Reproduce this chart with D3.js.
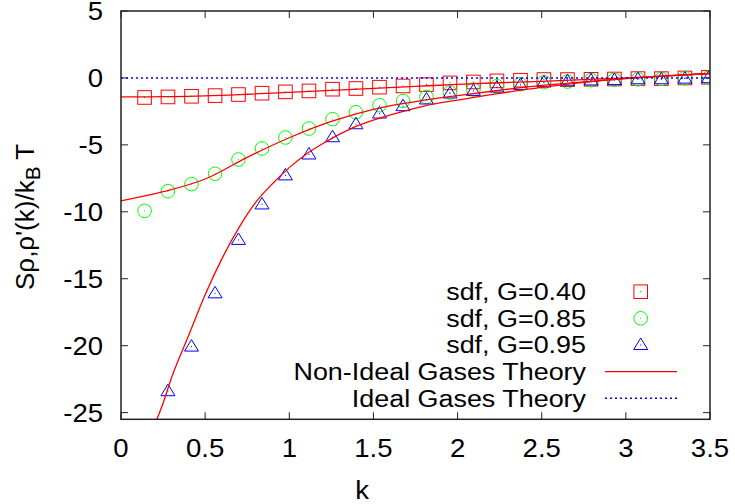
<!DOCTYPE html>
<html><head><meta charset="utf-8">
<script src="https://cdn.jsdelivr.net/npm/d3@7"></script>
<style>body{margin:0;background:#fff} text{font-family:"Liberation Sans",Arial,Helvetica,sans-serif;}</style>
</head><body><svg id="c" width="735" height="504"></svg>
<script>
// ---- data ----
const kValues = [0.140,0.279,0.419,0.559,0.698,0.838,0.977,1.117,1.257,1.396,1.536,1.676,1.815,1.955,2.094,2.234,2.374,2.513,2.653,2.793,2.932,3.072,3.211,3.351,3.491];
const sdfG040 = [-1.46,-1.42,-1.37,-1.32,-1.24,-1.14,-1.04,-0.97,-0.84,-0.79,-0.69,-0.60,-0.50,-0.37,-0.30,-0.22,-0.17,-0.12,-0.12,-0.10,-0.08,-0.05,-0.05,0.00,0.05];
const sdfG085 = [-9.93,-8.46,-7.93,-7.16,-6.09,-5.27,-4.45,-3.78,-3.08,-2.56,-2.04,-1.72,-1.42,-1.09,-0.87,-0.62,-0.47,-0.32,-0.27,-0.17,-0.14,-0.10,-0.07,-0.03,0.00];
const sdfG095 = [null,-23.4,-20.07,-16.09,-12.1,-9.45,-7.28,-5.72,-4.43,-3.46,-2.66,-2.11,-1.61,-1.16,-0.97,-0.72,-0.52,-0.34,-0.25,-0.19,-0.16,-0.10,-0.10,-0.05,-0.02];

const theoryK040 = [0,0.25,0.5,0.75,1.0,1.25,1.5,1.75,2.0,2.25,2.5,2.75,3.0,3.25,3.5];
const theoryG040 = [-1.42,-1.40,-1.34,-1.22,-1.08,-0.93,-0.78,-0.63,-0.48,-0.36,-0.25,-0.12,0.0,0.17,0.33];
const theoryK085 = [0,0.25,0.5,0.75,1.0,1.25,1.5,1.75,2.0,2.25,2.5,2.75,3.0,3.25,3.5];
const theoryG085 = [-9.18,-8.5,-7.55,-5.93,-4.47,-3.25,-2.34,-1.77,-1.32,-0.92,-0.56,-0.3,-0.04,0.16,0.33];
const theoryK095 = [0.2,0.25,0.3,0.4,0.5,0.6,0.7,0.8,0.9,1.0,1.1,1.2,1.3,1.4,1.5,1.66,1.8,2.0,2.25,2.5,2.75,3.0,3.25,3.5];
const theoryG095 = [-25.9,-24.3,-22.4,-19.3,-16.2,-13.5,-11.2,-9.3,-7.9,-6.7,-5.7,-4.9,-4.2,-3.6,-3.15,-2.55,-2.1,-1.65,-1.15,-0.7,-0.33,-0.05,0.16,0.33];

const xTicks = [0,0.5,1,1.5,2,2.5,3,3.5];
const yTicks = [5,0,-5,-10,-15,-20,-25];
const legendLabels = ["sdf, G=0.40","sdf, G=0.85","sdf, G=0.95","Non-Ideal Gases Theory","Ideal Gases Theory"];

// ---- layout ----
const svg = d3.select("#c");
const L=121, R=710, T=11, B=419.3;
const x = d3.scaleLinear().domain([0,3.5]).range([L,R]);
const y = d3.scaleLinear().domain([-25.5,5]).range([B,T]);
const FS = 25.5, SX = 1.08;      // tick labels
const LFS = 23.5, LSX = 1.145;   // legend

svg.append("defs").append("clipPath").attr("id","plotclip")
  .append("rect").attr("x",L).attr("y",T).attr("width",R-L).attr("height",B-T);

const g = svg.append("g");
const plot = svg.append("g").attr("clip-path","url(#plotclip)");

// markers
function square(sel, cx, cy){
  sel.append("rect").attr("x",cx-6.8).attr("y",cy-6.8).attr("width",13.6).attr("height",13.6)
    .attr("fill","none").attr("stroke","#ff0000").attr("stroke-width",1);
  sel.append("rect").attr("x",cx-0.5).attr("y",cy-0.5).attr("width",1).attr("height",1).attr("fill","#ff0000");
}
function circle(sel, cx, cy){
  sel.append("circle").attr("cx",cx).attr("cy",cy).attr("r",6.8)
    .attr("fill","none").attr("stroke","#00ff00").attr("stroke-width",1);
  sel.append("rect").attr("x",cx-0.5).attr("y",cy-0.5).attr("width",1).attr("height",1).attr("fill","#00ff00");
}
function triangle(sel, cx, cy){
  sel.append("path").attr("d",`M${cx},${cy-7}L${cx+7},${cy+4.5}L${cx-7},${cy+4.5}Z`)
    .attr("fill","none").attr("stroke","#0000ff").attr("stroke-width",1);
  sel.append("rect").attr("x",cx-0.5).attr("y",cy-0.5).attr("width",1).attr("height",1).attr("fill","#0000ff");
}

kValues.forEach((k,i)=>{ square(plot, x(k), y(sdfG040[i])); });
kValues.forEach((k,i)=>{ circle(plot, x(k), y(sdfG085[i])); });
kValues.forEach((k,i)=>{ if(sdfG095[i]!==null) triangle(plot, x(k), y(sdfG095[i])); });

const line = d3.line().x(d=>x(d[0])).y(d=>y(d[1])).curve(d3.curveMonotoneX);
[[theoryK040,theoryG040],[theoryK085,theoryG085],[theoryK095,theoryG095]].forEach(([ks,vs])=>{
  plot.append("path").attr("d", line(ks.map((k,i)=>[k,vs[i]])))
    .attr("fill","none").attr("stroke","#ff0000").attr("stroke-width",1.3);
});

// ideal line y=0
plot.append("line").attr("x1",x(0)).attr("x2",x(3.5)).attr("y1",y(0)).attr("y2",y(0))
  .attr("stroke","#0000ff").attr("stroke-width",1.5).attr("stroke-dasharray","2,3");

// frame and ticks
const TL = 7;
xTicks.forEach(t=>{
  g.append("line").attr("x1",x(t)).attr("x2",x(t)).attr("y1",B).attr("y2",B-TL).attr("stroke","#222").attr("stroke-width",1);
  g.append("line").attr("x1",x(t)).attr("x2",x(t)).attr("y1",T).attr("y2",T+TL).attr("stroke","#222").attr("stroke-width",1);
  g.append("text").attr("transform",`translate(${x(t)},457) scale(${SX},1)`).attr("text-anchor","middle").attr("font-size",FS).text(t);
});
yTicks.forEach(t=>{
  g.append("line").attr("x1",L).attr("x2",L+TL).attr("y1",y(t)).attr("y2",y(t)).attr("stroke","#222").attr("stroke-width",1);
  g.append("line").attr("x1",R).attr("x2",R-TL).attr("y1",y(t)).attr("y2",y(t)).attr("stroke","#222").attr("stroke-width",1);
  g.append("text").attr("transform",`translate(103,${y(t)+9}) scale(${SX},1)`).attr("text-anchor","end").attr("font-size",FS).text(t);
});
svg.append("rect").attr("x",L).attr("y",T).attr("width",R-L).attr("height",B-T)
  .attr("fill","none").attr("stroke","#222").attr("stroke-width",1.5);

// axis labels
g.append("text").attr("transform",`translate(362,499) scale(${SX},1)`).attr("text-anchor","middle").attr("font-size",FS).text("k");
const yl = g.append("text").attr("transform","translate(33.5,290) rotate(-90)").attr("text-anchor","start").attr("font-size",26);
yl.append("tspan").text("Sρ,ρ'(k)/k");
yl.append("tspan").attr("font-size",26*0.8).attr("dy",6).text("B");
yl.append("tspan").attr("dy",-6).text(" T");

// legend
const legY = [291.7,318.3,345,371.7,398.3];
legendLabels.forEach((lab,i)=>{
  g.append("text").attr("transform",`translate(586,${legY[i]+8.4}) scale(${LSX},1)`).attr("text-anchor","end").attr("font-size",LFS).text(lab);
});
square(g, 640.7, legY[0]);
circle(g, 640.7, legY[1]);
triangle(g, 640.7, legY[2]);
g.append("line").attr("x1",605).attr("x2",677).attr("y1",legY[3]).attr("y2",legY[3]).attr("stroke","#ff0000").attr("stroke-width",1.3);
g.append("line").attr("x1",605).attr("x2",677).attr("y1",legY[4]).attr("y2",legY[4]).attr("stroke","#0000ff").attr("stroke-width",1.5).attr("stroke-dasharray","2,3");
</script></body></html>
